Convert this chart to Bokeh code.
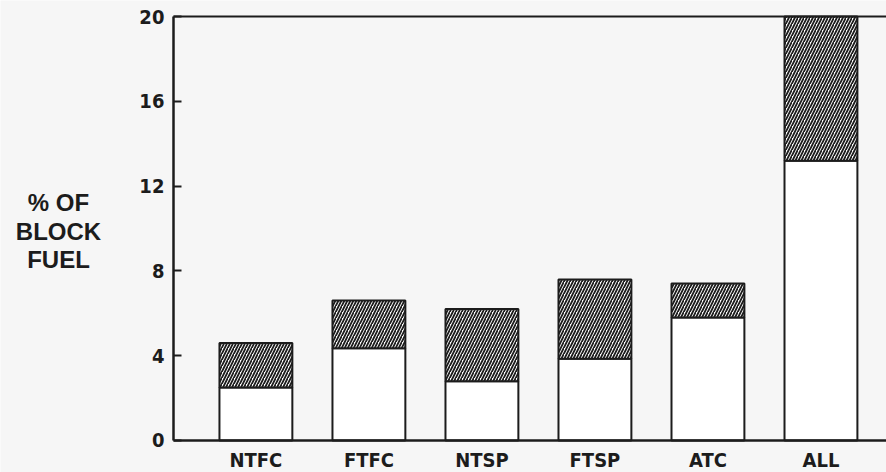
import numpy as np
from bokeh.plotting import figure
from bokeh.models import Range1d, FixedTicker, Label, LinearAxis
from bokeh.embed import file_html
from bokeh.resources import INLINE

categories = ["NTFC", "FTFC", "NTSP", "FTSP", "ATC", "ALL"]
lower_values = [2.5, 4.35, 2.8, 3.85, 5.8, 13.2]
total_values = [4.6, 6.6, 6.2, 7.6, 7.4, 20.0]
y_ticks = [0, 4, 8, 12, 16, 20]
y_label_lines = ["% OF", "BLOCK", "FUEL"]

BG = "#f6f6f6"
INK = "#1c1c1c"
COND = "DejaVu Sans Condensed"

x = np.arange(len(categories))
AXIS_X = -0.73      # where the value axis stands on the category scale
X_END = 5.58
Y_MIN, Y_MAX = 0, 20

p = figure(width=886, height=472, output_backend="svg", toolbar_location=None,
           x_range=Range1d(-2.26, X_END), y_range=Range1d(-1.51, 20.755),
           min_border_left=0, min_border_right=0, min_border_top=0, min_border_bottom=0)
p.background_fill_color = BG
p.border_fill_color = BG
p.outline_line_color = None
p.grid.visible = False

p.vbar(x=x, width=0.645, bottom=0, top=lower_values, fill_color="white",
       line_color=INK, line_width=2)
p.vbar(x=x, width=0.645, bottom=lower_values, top=total_values, fill_color="white",
       hatch_pattern="/", hatch_color=INK, hatch_scale=6, hatch_weight=1.8,
       line_color=INK, line_width=2)

ax = p.xaxis[0]
ax.fixed_location = Y_MIN
ax.ticker = FixedTicker(ticks=list(x))
ax.major_label_overrides = {int(i): c for i, c in zip(x, categories)}
ax.bounds = (AXIS_X, X_END)
ax.major_tick_line_color = None
ax.minor_tick_line_color = None
ax.axis_line_color = INK
ax.axis_line_width = 2.5
ax.major_label_text_font = COND
ax.major_label_text_font_style = "bold"
ax.major_label_text_font_size = "20px"
ax.major_label_text_color = INK
ax.major_label_standoff = 2

top = LinearAxis(ticker=FixedTicker(ticks=[]), bounds=(AXIS_X, X_END), fixed_location=Y_MAX,
                 axis_line_color=INK, axis_line_width=2,
                 major_tick_line_color=None, minor_tick_line_color=None,
                 major_label_text_font_size="0px", major_label_standoff=0)
p.add_layout(top, "above")

ay = p.yaxis[0]
ay.fixed_location = AXIS_X
ay.bounds = (Y_MIN, Y_MAX)
ay.ticker = FixedTicker(ticks=y_ticks)
ay.major_tick_in = 8
ay.major_tick_out = 0
ay.major_tick_line_color = INK
ay.major_tick_line_width = 2
ay.minor_tick_line_color = None
ay.axis_line_color = INK
ay.axis_line_width = 2.5
ay.major_label_text_font = COND
ay.major_label_text_font_style = "bold"
ay.major_label_text_font_size = "20px"
ay.major_label_text_color = INK
ay.major_label_standoff = 9

# screen units here are measured from the frame's bottom-left corner
for txt, sy in zip(y_label_lines, [270, 241, 213]):
    p.add_layout(Label(x=58, y=sy, x_units="screen", y_units="screen", text=txt,
                       text_align="center", text_baseline="middle",
                       text_font="Liberation Sans", text_font_style="bold",
                       text_font_size="24px", text_color=INK))

open("out.html", "w").write(file_html(p, INLINE))
